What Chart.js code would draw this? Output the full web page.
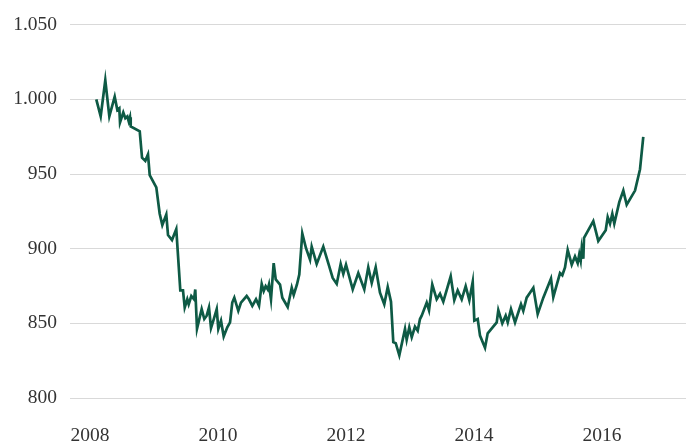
<!DOCTYPE html>
<html>
<head>
<meta charset="utf-8">
<script src="https://cdn.jsdelivr.net/npm/chart.js@4/dist/chart.umd.min.js"></script>
<style>
  html, body { margin: 0; padding: 0; background: #fff; }
  #wrap { width: 686px; height: 442px; position: relative; }
</style>
</head>
<body>
<div id="wrap"><canvas id="chart"></canvas></div>
<script>
// decimal years
const dates = [
  2008.098, 2008.167, 2008.239, 2008.302, 2008.386, 2008.427, 2008.458, 2008.469, 2008.520, 2008.552,
  2008.583, 2008.605, 2008.625, 2008.636, 2008.777, 2008.813, 2008.864, 2008.906, 2008.933, 2009.036,
  2009.089, 2009.130, 2009.192, 2009.219, 2009.281, 2009.348, 2009.411, 2009.453, 2009.480, 2009.520,
  2009.542, 2009.583, 2009.625, 2009.645, 2009.672, 2009.745, 2009.786, 2009.823, 2009.859, 2009.891,
  2009.927, 2009.980, 2010.005, 2010.047, 2010.089, 2010.145, 2010.188, 2010.223, 2010.255, 2010.317,
  2010.359, 2010.448, 2010.484, 2010.536, 2010.594, 2010.641, 2010.683, 2010.714, 2010.745, 2010.777,
  2010.797, 2010.828, 2010.870, 2010.902, 2010.969, 2011.005, 2011.089, 2011.152, 2011.183, 2011.234,
  2011.270, 2011.317, 2011.375, 2011.438, 2011.464, 2011.542, 2011.645, 2011.723, 2011.792, 2011.855,
  2011.917, 2011.958, 2012.000, 2012.105, 2012.192, 2012.286, 2012.348, 2012.402, 2012.464, 2012.531,
  2012.598, 2012.652, 2012.703, 2012.739, 2012.777, 2012.833, 2012.922, 2012.948, 2012.989, 2013.027,
  2013.078, 2013.120, 2013.156, 2013.183, 2013.261, 2013.297, 2013.348, 2013.417, 2013.469, 2013.520,
  2013.636, 2013.692, 2013.745, 2013.808, 2013.870, 2013.927, 2013.980, 2014.005, 2014.058, 2014.094,
  2014.172, 2014.214, 2014.355, 2014.380, 2014.442, 2014.495, 2014.527, 2014.578, 2014.641, 2014.734,
  2014.770, 2014.823, 2014.875, 2014.927, 2014.995, 2015.083, 2015.203, 2015.239, 2015.344, 2015.380,
  2015.422, 2015.464, 2015.527, 2015.578, 2015.620, 2015.645, 2015.667, 2015.683, 2015.708, 2015.719,
  2015.864, 2015.942, 2016.058, 2016.089, 2016.125, 2016.161, 2016.192, 2016.270, 2016.333, 2016.386,
  2016.516, 2016.594, 2016.645
];

const indexValues = [
  1000, 988.6, 1012.8, 988.6, 1001.8, 992.9, 994.0, 984.6, 991.2, 987.4,
  988.6, 985.2, 988.1, 981.9, 978.6, 960.9, 958.8, 963.1, 949.2, 941.1,
  923.4, 915.8, 922.8, 909.1, 905.8, 913.1, 872.1, 872.1, 860.6, 866.1,
  862.8, 868.3, 866.1, 872.7, 846.3, 859.5, 852.9, 855.1, 860.6, 846.9,
  851.8, 859.5, 846.3, 851.8, 841.2, 847.3, 850.6, 863.9, 867.2, 858.4,
  863.9, 868.3, 866.1, 861.7, 866.1, 861.7, 876.4, 871.6, 874.9, 872.7,
  876.0, 866.1, 890.3, 879.4, 876.0, 867.2, 861.0, 873.8, 869.0, 876.0,
  882.7, 910.2, 900.3, 892.6, 901.4, 889.7, 901.4, 890.3, 880.4, 876.4,
  889.7, 883.1, 889.3, 872.7, 883.7, 872.7, 887.5, 877.1, 887.5, 870.5,
  862.8, 874.3, 864.5, 837.4, 836.7, 828.6, 846.3, 839.0, 847.3, 840.7,
  847.8, 845.1, 852.9, 855.1, 863.9, 858.8, 876.0, 866.1, 869.8, 864.5,
  881.5, 865.5, 872.1, 866.1, 874.9, 865.5, 877.8, 851.8, 852.9, 841.8,
  833.7, 843.3, 850.6, 858.8, 850.0, 855.1, 850.6, 859.5, 850.6, 862.8,
  858.4, 867.2, 870.5, 873.8, 856.2, 867.2, 880.0, 867.6, 883.7, 882.2,
  887.5, 899.2, 889.3, 894.8, 890.3, 896.3, 891.9, 900.3, 893.3, 907.3,
  918.4, 905.2, 912.4, 921.2, 916.8, 923.4, 916.8, 931.2, 938.9, 929.4,
  938.9, 953.2, 974.9
];

const yearTicks = [2008, 2010, 2012, 2014, 2016];
const valueTicks = [800, 850, 900, 950, 1000, 1050];

function fmtThousands(v) {
  return String(v).replace(/\B(?=(\d{3})+(?!\d))/g, '.');
}

const points = dates.map((d, i) => ({ x: d, y: indexValues[i] }));
const labelFont = { family: "'Liberation Serif', 'DejaVu Serif', serif", size: 19.5 };

new Chart(document.getElementById('chart'), {
  type: 'line',
  data: {
    datasets: [{
      data: points,
      borderColor: '#0e5a45',
      borderWidth: 2.7,
      pointRadius: 0,
      tension: 0,
      fill: false
    }]
  },
  options: {
    responsive: true,
    maintainAspectRatio: false,
    animation: false,
    layout: { padding: { top: 21, right: 0, bottom: 0, left: 0 } },
    plugins: { legend: { display: false }, tooltip: { enabled: false } },
    scales: {
      x: {
        type: 'linear',
        min: 2007.6875,
        max: 2017.3125,
        grid: { display: false, drawTicks: false },
        border: { display: false },
        afterBuildTicks: scale => { scale.ticks = yearTicks.map(v => ({ value: v })); },
        afterFit: scale => { scale.height = 44; },
        ticks: {
          color: '#333',
          font: labelFont,
          padding: 26,
          maxRotation: 0,
          callback: v => String(v)
        }
      },
      y: {
        min: 800,
        max: 1050,
        grid: { color: '#d9d9d9', lineWidth: 1, drawTicks: false },
        border: { display: false },
        afterBuildTicks: scale => { scale.ticks = valueTicks.map(v => ({ value: v })); },
        afterFit: scale => { scale.width = 70; },
        ticks: {
          color: '#333',
          font: labelFont,
          padding: 13,
          callback: v => fmtThousands(v)
        }
      }
    }
  }
});
</script>
</body>
</html>
